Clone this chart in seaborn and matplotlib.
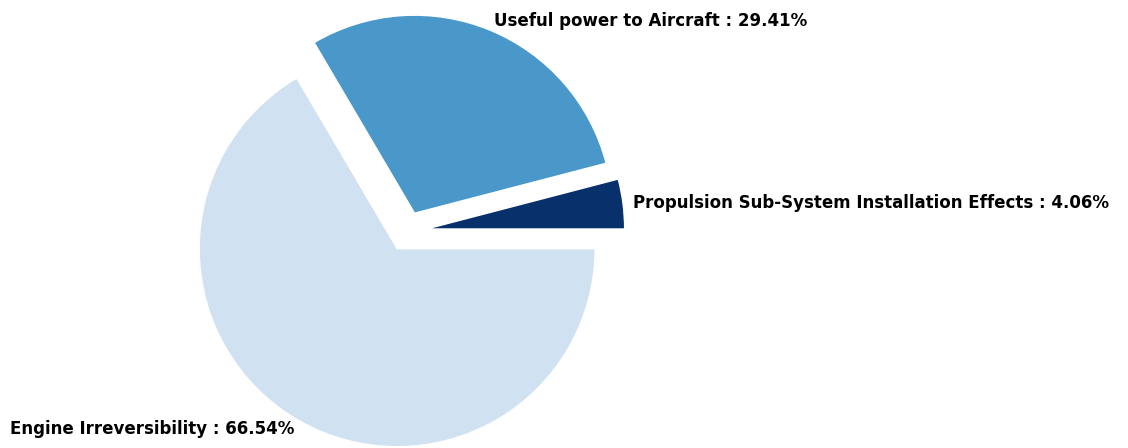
import matplotlib
matplotlib.use("Agg")
import matplotlib.pyplot as plt
import seaborn as sns

categories = ["Propulsion Sub-System Installation Effects",
              "Useful power to Aircraft",
              "Engine Irreversibility"]
values = [4.06, 29.41, 66.54]
colors = ["#08306b", "#4a98c9", "#d0e1f2"]

sns.set_theme(style="white")
plt.rcParams['font.family'] = ['DejaVu Sans']

labels = [f"{c} : {v:.2f}%" for c, v in zip(categories, values)]

fig = plt.figure(figsize=(11.28, 4.48), dpi=100)
ax = fig.add_axes([0, 0, 1, 1])
ax.pie(values, labels=labels, colors=colors, explode=[0.1, 0.1, 0.1],
       startangle=0, counterclock=True, labeldistance=1.05, radius=1,
       textprops=dict(fontsize=12, fontweight="bold", color="black"))
ax.set_aspect("equal")
ax.set_xlim(-407 / 198, 721 / 198)
ax.set_ylim(-216.5 / 198, 231.5 / 198)
ax.axis("off")
fig.savefig("out.png", dpi=100)
